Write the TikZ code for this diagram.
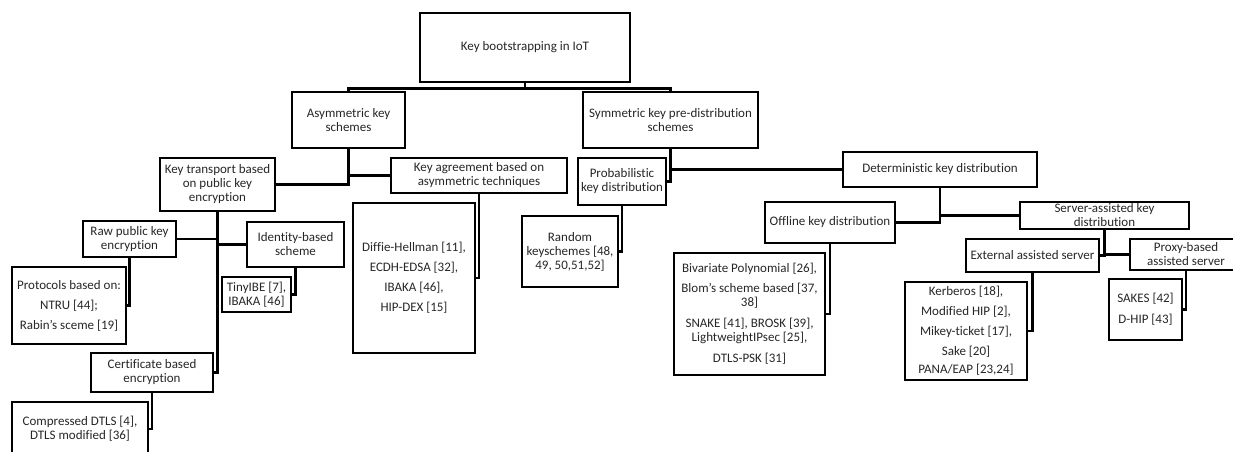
\documentclass[tikz,border=0pt]{standalone}
\usepackage{fontspec}
\setmainfont{Carlito}[Ligatures={NoCommon}]
\begin{document}
\begin{tikzpicture}[x=1pt,y=-1pt,
  box/.style={draw=black,line width=2.8pt,inner sep=0pt,align=center,
    font=\fontsize{13}{14}\selectfont,text=black!85},
  link/.style={draw=black,line width=2.6pt}]
\useasboundingbox (0,0) rectangle (1233,452);
\clip (0,0) rectangle (1233,452);
% level 0
\node[box,minimum width=210pt,minimum height=69pt] (root) at (525,47.5) {Key bootstrapping in IoT};
% level 1
\node[box,minimum width=113pt,minimum height=56pt] (asym) at (348.5,120) {Asymmetric key\\schemes};
\node[box,minimum width=175pt,minimum height=56pt] (sym) at (670.5,120) {Symmetric key pre-distribution\\schemes};
% level 2
\node[box,minimum width=115pt,minimum height=53pt] (ktrans) at (217.5,184.5) {Key transport based\\on public key\\encryption};
\node[box,minimum width=176pt,minimum height=35pt] (kagree) at (479,175.5) {Key agreement based on\\asymmetric techniques};
\node[box,minimum width=88pt,minimum height=47pt] (prob) at (622,181.5) {Probabilistic\\key distribution};
\node[box,minimum width=194pt,minimum height=35pt] (det) at (940,169.5) {Deterministic key distribution};
% level 3
\node[box,minimum width=130pt,minimum height=41pt] (offline) at (830,222.5) {Offline key distribution};
\node[box,minimum width=169pt,minimum height=27pt] (server) at (1104.5,215.5) {Server-assisted key\\distribution};
\node[box,minimum width=133pt,minimum height=33pt] (external) at (1032.5,255.5) {External assisted server};
\node[box,minimum width=112pt,minimum height=31pt] (proxy) at (1186,254.5) {Proxy-based\\assisted server};
\node[box,minimum width=93pt,minimum height=36pt] (raw) at (129.5,239) {Raw public key\\encryption};
\node[box,minimum width=97pt,minimum height=45pt] (ident) at (295.5,244.5) {Identity-based\\scheme};
\node[box,minimum width=122pt,minimum height=39pt] (cert) at (152,372.5) {Certificate based\\encryption};
% leaves
\node[box,minimum width=122pt,minimum height=98pt] (kerb) at (966,331) {Kerberos [18],\\[6pt]Modified HIP [2],\\[6pt]Mikey-ticket [17],\\[6pt]Sake [20]\\[4pt]PANA/EAP [23,24]};
\node[box,minimum width=73pt,minimum height=61pt] (sakes) at (1145.5,309.5) {SAKES [42]\\[7pt]D-HIP [43]};
\node[box,minimum width=151pt,minimum height=122pt] (biv) at (749.5,314) {Bivariate Polynomial [26],\\[6pt]Blom's scheme based [37,\\38]\\[7pt]SNAKE [41], BROSK [39],\\LightweightIPsec [25],\\[7pt]DTLS-PSK [31]};
\node[box,minimum width=96pt,minimum height=71pt] (random) at (570,251.5) {Random\\keyschemes [48,\\49, 50,51,52]};
\node[box,minimum width=122pt,minimum height=150pt] (dh) at (414,278) {Diffie-Hellman [11],\\[6pt]ECDH-EDSA [32],\\[6pt]IBAKA [46],\\[6pt]HIP-DEX [15]};
\node[box,minimum width=114pt,minimum height=77pt] (proto) at (69,305.5) {Protocols based on:\\[6pt]NTRU [44];\\[6pt]Rabin's sceme [19]};
\node[box,minimum width=69pt,minimum height=35pt] (tiny) at (256.5,294.5) {TinyIBE [7],\\IBAKA [46]};
\node[box,minimum width=136pt,minimum height=54pt] (comp) at (80,429) {Compressed DTLS [4],\\DTLS modified [36]};
% connectors
\draw[link] (root.south) -- ++(0,5) coordinate (j0);
\draw[link] (j0) -| (asym.north);
\draw[link] (j0) -| (sym.north);
\draw[link] (asym.south) |- (ktrans.east);
\draw[link] (asym.south |- kagree.west) -- (kagree.west);
\draw[link] (sym.south) |- (prob.east);
\draw[link] (sym.south |- det.west) -- (det.west);
\draw[link] (det.south) |- (offline.east);
\draw[link] (det.south |- server.west) -- (server.west);
\draw[link] (server.south) |- (external.east);
\draw[link] (server.south |- proxy.west) -- (proxy.west);
\draw[link] (external.south) |- (kerb.east);
\draw[link] (proxy.south) |- (sakes.east);
\draw[link] (offline.south) |- (biv.east);
\draw[link] (prob.south) |- (random.east);
\draw[link] (kagree.south) |- (dh.east);
\draw[link] (ktrans.south) |- (raw.east);
\draw[link] (ktrans.south |- ident.west) -- (ident.west);
\draw[link] (ktrans.south) |- (cert.east);
\draw[link] (raw.south) |- (proto.east);
\draw[link] (ident.south) |- (tiny.east);
\draw[link] (cert.south) |- (comp.east);
\end{tikzpicture}
\end{document}
